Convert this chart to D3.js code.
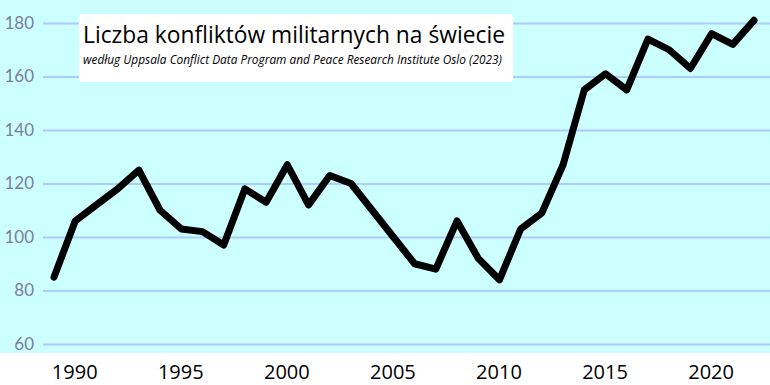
<!DOCTYPE html>
<html>
<head>
<meta charset="utf-8">
<script src="https://cdn.jsdelivr.net/npm/d3@7"></script>
<style>
html,body{margin:0;padding:0;background:#fff;}
svg{display:block;}
</style>
</head>
<body>
<svg id="chart" width="770" height="385"></svg>
<script>
const years = [1989,1990,1991,1992,1993,1994,1995,1996,1997,1998,1999,2000,2001,2002,2003,2004,2005,2006,2007,2008,2009,2010,2011,2012,2013,2014,2015,2016,2017,2018,2019,2020,2021,2022];
const conflicts = [85,106,112,118,125,110,103,102,97,118,113,127,112,123,120,110,100,90,88,106,92,84,103,109,127,155,161,155,174,170,163,176,172,181];
const yTicks = [60,80,100,120,140,160,180];
const xTicks = [1990,1995,2000,2005,2010,2015,2020];
const titleText = "Liczba konfliktów militarnych na świecie";
const subtitleText = "według Uppsala Conflict Data Program and Peace Research Institute Oslo (2023)";

const svg = d3.select("#chart");
const W = 770, H = 385;

const x = d3.scaleLinear().domain([1989, 2022]).range([54, 754]);
const y = d3.scaleLinear().domain([60, 180]).range([344, 23]);

// background
svg.append("rect").attr("x",0).attr("y",0).attr("width",W).attr("height",353).attr("fill","#ccffff");

// grid
const yAxis = d3.axisLeft(y).tickValues(yTicks).tickSize(-(W-43)).tickPadding(9);
const gy = svg.append("g").attr("transform","translate(43,0)").call(yAxis);
gy.select(".domain").remove();
gy.selectAll(".tick line").attr("stroke","#aecbff").attr("stroke-width",2);
gy.selectAll(".tick text").attr("fill","#7d7d9c").attr("font-family","Lato, sans-serif").attr("font-size",17);

// x axis labels
const xAxis = d3.axisBottom(x).tickValues(xTicks).tickFormat(d3.format("d")).tickSize(0).tickPadding(0);
const gx = svg.append("g").attr("transform","translate(-1,365)").call(xAxis);
gx.select(".domain").remove();
gx.selectAll(".tick text").attr("fill","#000").attr("font-family","'Open Sans', sans-serif").attr("font-size",20).attr("dy","0.71em");

// line
const line = d3.line().x((d,i)=>x(years[i])).y(d=>y(d));
svg.append("path").datum(conflicts).attr("d",line)
  .attr("fill","none").attr("stroke","#000").attr("stroke-width",7)
  .attr("stroke-linejoin","round").attr("stroke-linecap","round");

// title box
svg.append("rect").attr("x",79).attr("y",14).attr("width",434).attr("height",68).attr("fill","#fff");
svg.append("text").attr("x",83).attr("y",43).text(titleText)
  .attr("font-family","'Open Sans', sans-serif").attr("font-size",24).attr("fill","#000")
  .attr("textLength",422).attr("lengthAdjust","spacingAndGlyphs");
svg.append("text").attr("x",83).attr("y",64).text(subtitleText)
  .attr("font-family","'Open Sans', sans-serif").attr("font-style","italic").attr("font-size",13.5).attr("fill","#000")
  .attr("textLength",419).attr("lengthAdjust","spacingAndGlyphs");
</script>
</body>
</html>
